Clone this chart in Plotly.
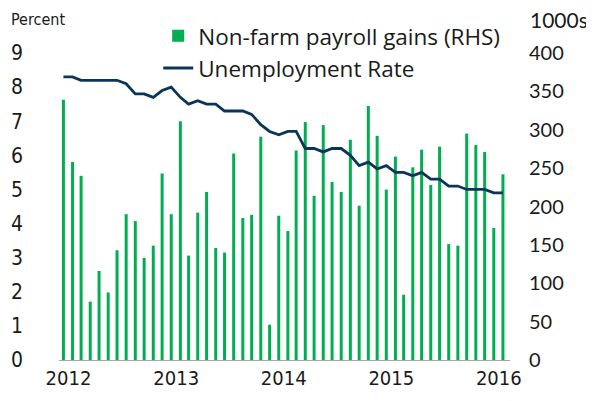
import pandas as pd
import plotly.graph_objects as go

months = pd.date_range("2012-01-01", periods=50, freq="MS")

payroll = [339, 258, 240, 76, 116, 88, 143, 190, 181, 133, 149, 243,
           190, 311, 136, 192, 219, 146, 140, 269, 185, 189, 291, 46,
           188, 168, 273, 310, 214, 306, 232, 219, 287, 201, 331, 292,
           222, 265, 85, 251, 274, 228, 278, 151, 149, 295, 280, 271,
           172, 242]

unemployment = [8.3, 8.3, 8.2, 8.2, 8.2, 8.2, 8.2, 8.1, 7.8, 7.8, 7.7, 7.9,
                8.0, 7.7, 7.5, 7.6, 7.5, 7.5, 7.3, 7.3, 7.3, 7.2, 6.9, 6.7,
                6.6, 6.7, 6.7, 6.2, 6.2, 6.1, 6.2, 6.2, 6.0, 5.7, 5.8, 5.6,
                5.7, 5.5, 5.5, 5.4, 5.5, 5.3, 5.3, 5.1, 5.1, 5.0, 5.0, 5.0,
                4.9, 4.9]

year_ticks = ["2012-01-18", "2013-01-18", "2014-01-18", "2015-01-18", "2016-01-18"]
year_labels = ["2012", "2013", "2014", "2015", "2016"]

GREEN = "#00AD50"
NAVY = "#0B3558"
TXT = "#1a1a1a"
MAIN_FONT = "Lato, 'Open Sans', sans-serif"
LEGEND_FONT = "'Open Sans', Lato, sans-serif"
NARROW = "'Liberation Sans Narrow', 'Arial Narrow', 'DejaVu Sans Condensed', Lato, sans-serif"

fig = go.Figure()
fig.add_trace(go.Bar(
    x=months, y=payroll, name="Non-farm payroll gains (RHS)",
    marker=dict(color=GREEN, line=dict(width=0)),
    width=86400000 * 30.44 / 3.0,
    yaxis="y",
))
fig.add_trace(go.Scatter(
    x=months, y=unemployment, name="Unemployment Rate",
    mode="lines", line=dict(color=NAVY, width=2.8),
    yaxis="y2",
))

# page body has an 8px default margin, so the figure is sized to fit the window
fig.update_layout(
    width=586, height=393,
    margin=dict(l=51, r=84, t=45, b=41, autoexpand=False),
    paper_bgcolor="white", plot_bgcolor="white",
    showlegend=True,
    legend=dict(
        x=0.22, y=1.125, xanchor="left", yanchor="top",
        font=dict(family=LEGEND_FONT, size=22.5, color=TXT),
        bgcolor="rgba(0,0,0,0)", tracegroupgap=0, itemwidth=30,
    ),
    xaxis=dict(
        type="date",
        range=["2011-12-17", "2016-02-25"],
        tickvals=year_ticks, ticktext=year_labels,
        showgrid=False, zeroline=False,
        showline=True, linecolor="#a6a6a6", linewidth=1.3,
        ticks="",
        tickfont=dict(family=NARROW, size=20, color=TXT),
    ),
    yaxis=dict(
        side="right", range=[0, 400],
        tickvals=[0, 50, 100, 150, 200, 250, 300, 350, 400],
        showgrid=False, zeroline=False, showline=False,
        ticks="", ticklabelstandoff=18,
        tickfont=dict(family=MAIN_FONT, size=20, color=TXT),
    ),
    yaxis2=dict(
        overlaying="y", side="left", range=[0, 9],
        tickvals=list(range(0, 10)),
        showgrid=False, zeroline=False, showline=False,
        ticks="", ticklabelstandoff=35,
        tickfont=dict(family=NARROW, size=21, color=TXT),
    ),
    annotations=[
        dict(text="Percent", xref="paper", yref="paper", x=-0.11, y=1.11,
             xanchor="left", yanchor="middle", showarrow=False,
             font=dict(family=NARROW, size=16, color=TXT)),
        dict(text="1000s", xref="paper", yref="paper", x=1.04, y=1.11,
             xanchor="left", yanchor="middle", showarrow=False,
             font=dict(family=MAIN_FONT, size=21, color=TXT)),
    ],
)

fig.write_html("out.html")
